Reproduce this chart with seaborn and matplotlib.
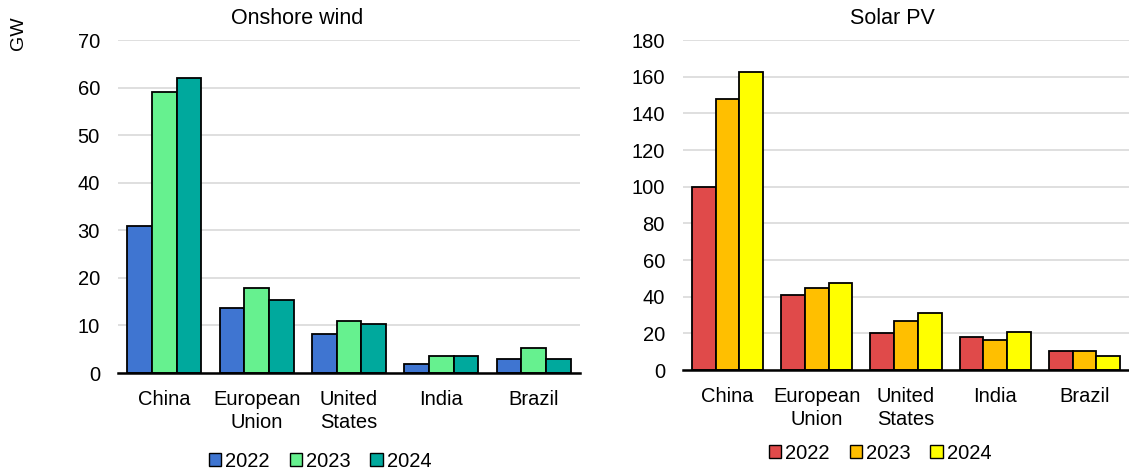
import matplotlib
matplotlib.use("Agg")
import matplotlib.pyplot as plt
import seaborn as sns
import pandas as pd
from matplotlib.patches import Patch

countries = ["China", "European\nUnion", "United\nStates", "India", "Brazil"]
years = ["2022", "2023", "2024"]
wind_2022 = [31, 13.6, 8.2, 1.8, 3.0]
wind_2023 = [59, 17.8, 11.0, 3.6, 5.2]
wind_2024 = [62, 15.3, 10.2, 3.6, 2.9]
solar_2022 = [100, 41, 20, 18, 10.4]
solar_2023 = [148, 45, 27, 16.4, 10.4]
solar_2024 = [162.5, 47.3, 31, 20.8, 7.5]

wind_colors = ["#3F75D1", "#66F18F", "#00A99D"]
solar_colors = ["#E04A4A", "#FFBF00", "#FFFF00"]

sns.set_theme(style="white")
plt.rcParams['font.family'] = ['Liberation Sans', 'DejaVu Sans']
plt.rcParams['text.color'] = 'black'


def long_df(vals):
    rows = []
    for y, v in zip(years, vals):
        for c, x in zip(countries, v):
            rows.append({"country": c, "year": y, "value": x})
    return pd.DataFrame(rows)


fig = plt.figure(figsize=(11.29, 4.73), dpi=100)
ax1 = fig.add_axes([118 / 1129, 1 - 373 / 473, (580 - 118) / 1129, (373 - 40) / 473])
ax2 = fig.add_axes([683 / 1129, 1 - 370 / 473, (1129 - 683) / 1129, (370 - 40) / 473])


def draw(ax, df, colors, ymax, step, legend_xy):
    sns.barplot(data=df, x="country", y="value", hue="year", palette=colors,
                edgecolor="black", linewidth=1.3, width=0.8, ax=ax,
                legend=False, saturation=1)
    ax.set_ylim(0, ymax)
    ax.set_xlim(-0.5, 4.5)
    ax.set_yticks(range(0, ymax + 1, step))
    ax.yaxis.grid(True, color="#DCDCDC", linewidth=1.3)
    ax.set_axisbelow(True)
    for s in ["top", "right", "left"]:
        ax.spines[s].set_visible(False)
    ax.spines["bottom"].set_color("black")
    ax.spines["bottom"].set_linewidth(1.8)
    ax.set_xlabel("")
    ax.set_ylabel("")
    ax.tick_params(axis="both", length=0, labelsize=14.5, colors="black")
    ax.tick_params(axis="y", pad=13)
    ax.tick_params(axis="x", pad=12)
    for t in ax.get_xticklabels():
        t.set_linespacing(1.3)
    handles = [Patch(facecolor=c, edgecolor="black", linewidth=1.0) for c in colors]
    fig.legend(handles, years, loc="center", bbox_to_anchor=legend_xy,
               ncol=3, frameon=False, fontsize=14.5, handlelength=0.6,
               handleheight=0.6, handletextpad=0.2, columnspacing=1.0)


draw(ax1, long_df([wind_2022, wind_2023, wind_2024]), wind_colors, 70, 10,
     (320 / 1129, 1 - 461 / 473))
draw(ax2, long_df([solar_2022, solar_2023, solar_2024]), solar_colors, 180, 20,
     (880 / 1129, 1 - 453 / 473))

fig.text(297 / 1129, 1 - 19 / 473, "Onshore wind", ha="center", va="center", fontsize=15.5)
fig.text(892 / 1129, 1 - 19 / 473, "Solar PV", ha="center", va="center", fontsize=15.5)
fig.text(19 / 1129, 1 - 33 / 473, "GW", ha="center", va="center", rotation=90, fontsize=14)

fig.savefig("out.png", dpi=100)
